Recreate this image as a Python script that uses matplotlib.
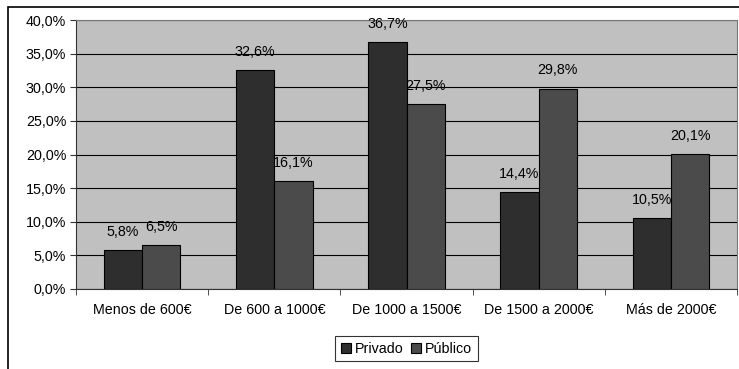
import matplotlib
matplotlib.use("Agg")
import matplotlib.pyplot as plt
from matplotlib.patches import Rectangle
import numpy as np

plt.rcParams['font.family'] = ['Liberation Sans', 'DejaVu Sans']

categories = ["Menos de 600€", "De 600 a 1000€", "De 1000 a 1500€", "De 1500 a 2000€", "Más de 2000€"]
privado = [5.8, 32.6, 36.7, 14.4, 10.5]
publico = [6.5, 16.1, 27.5, 29.8, 20.1]
series_names = ["Privado", "Público"]

FS = 10.3

fig = plt.figure(figsize=(7.39, 3.69), dpi=100)
ax = fig.add_axes([76/739, 1 - 289/369, (737 - 76)/739, (289 - 20)/369])

# outer chart frame (top and left edges visible)
fig.patches.append(Rectangle((8/739, -0.1), 1.2, 1 - 7/369 + 0.1, transform=fig.transFigure,
                             fill=False, edgecolor='black', linewidth=1.2))

ax.set_facecolor('#C0C0C0')
x = np.arange(len(categories))
w = 0.29
b1 = ax.bar(x - w/2, privado, w, color='#2e2e2e', edgecolor='black', linewidth=0.8, zorder=3, label=series_names[0])
b2 = ax.bar(x + w/2, publico, w, color='#4b4b4b', edgecolor='black', linewidth=0.8, zorder=3, label=series_names[1])

for bars, vals in ((b1, privado), (b2, publico)):
    for r, v in zip(bars, vals):
        ax.annotate(f"{v:.1f}%".replace('.', ','), (r.get_x() + r.get_width()/2, v),
                    xytext=(0, 8), textcoords='offset points', ha='center', va='bottom', fontsize=FS)

ax.set_xlim(-0.5, len(categories) - 0.5)
ax.set_ylim(0, 40)
yt = np.arange(0, 41, 5)
ax.set_yticks(yt)
ax.set_yticklabels([f"{v:.1f}%".replace('.', ',') for v in yt], fontsize=FS)
ax.yaxis.grid(True, color='black', linewidth=0.8, zorder=1)
ax.set_xticks(x)
ax.set_xticklabels(categories, fontsize=FS)
ax.set_xticks(np.arange(-0.5, len(categories)), minor=True)
ax.tick_params(axis='x', which='major', length=0, pad=10)
ax.tick_params(axis='x', which='minor', length=4, direction='out', color='#333333')
ax.tick_params(axis='y', length=4, direction='out', color='#333333', pad=3)
for s in ax.spines.values():
    s.set_color('#777777')
    s.set_linewidth(0.8)
ax.spines['left'].set_color('#333333')
ax.spines['bottom'].set_color('#333333')

leg = ax.legend(loc='upper center', bbox_to_anchor=(0.5, -0.148), ncol=2, fontsize=FS,
                frameon=True, fancybox=False, edgecolor='black', handlelength=0.7,
                handleheight=0.7, handletextpad=0.3, columnspacing=0.5, borderpad=0.4)
leg.get_frame().set_linewidth(0.8)

fig.savefig("out.png", dpi=100)
